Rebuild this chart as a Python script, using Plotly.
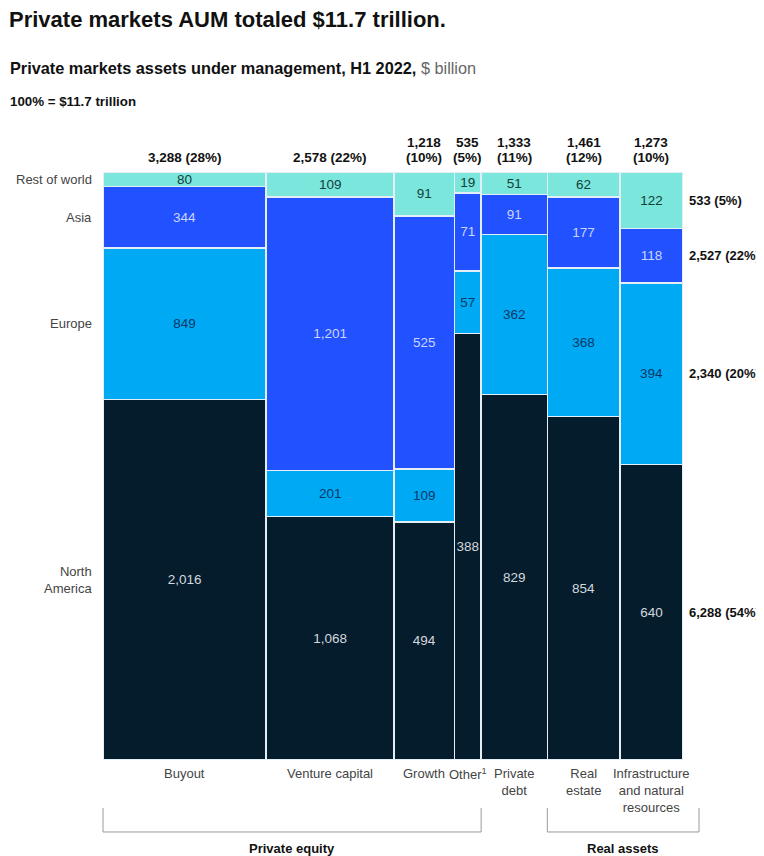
import plotly.graph_objects as go

# ---------------- data ----------------
columns = ["Buyout", "Venture capital", "Growth", "Other<sup>1</sup>", "Private<br>debt",
           "Real<br>estate", "Infrastructure<br>and natural<br>resources"]
col_totals = [3288, 2578, 1218, 535, 1333, 1461, 1273]
col_pct = [28, 22, 10, 5, 11, 12, 10]

regions = ["North America", "Europe", "Asia", "Rest of world"]
region_labels = ["North<br>America", "Europe", "Asia", "Rest of world"]
north_america = [2016, 1068, 494, 388, 829, 854, 640]
europe = [849, 201, 109, 57, 362, 368, 394]
asia = [344, 1201, 525, 71, 91, 177, 118]
rest_of_world = [80, 109, 91, 19, 51, 62, 122]
region_totals = [6288, 2340, 2527, 533]
region_pct = [54, 20, 22, 5]

colors = ["#051C2C", "#00A9F4", "#2251FF", "#7BE6DB"]
text_colors = ["#d3d8de", "#0b3866", "#ccd5ff", "#12403c"]

FONT = "Liberation Sans, Arial, sans-serif"

# ---------------- geometry from data ----------------
series = [north_america, europe, asia, rest_of_world]
col_sums = [sum(s[i] for s in series) for i in range(len(columns))]
grand = sum(col_totals)
lefts = []
acc = 0
for t in col_totals:
    lefts.append(acc)
    acc += t
centers = [l + t / 2 for l, t in zip(lefts, col_totals)]

fig = go.Figure()
for k, (name, vals) in enumerate(zip(regions, series)):
    shares = [v / col_sums[i] for i, v in enumerate(vals)]
    fig.add_trace(go.Bar(
        name=name, x=centers, y=shares, width=col_totals,
        marker=dict(color=colors[k], line=dict(color="#e4eef7", width=1.6)),
        text=[f"{v:,}" for v in vals], textposition="inside",
        insidetextanchor="middle", textangle=0, constraintext="none",
        textfont=dict(family=FONT, size=13.5, color=text_colors[k]),
        hoverinfo="skip", showlegend=False,
    ))

annotations = []
# column totals above
top_font = dict(family=FONT, size=13.5, color="#111")
for i in range(len(columns)):
    if i < 2:
        annotations.append(dict(x=centers[i], y=1, xref="x", yref="paper",
                                text=f"<b>{col_totals[i]:,} ({col_pct[i]}%)</b>",
                                showarrow=False, yanchor="middle", yshift=15, font=top_font))
    else:
        annotations.append(dict(x=centers[i], y=1, xref="x", yref="paper",
                                text=f"<b>{col_totals[i]:,}</b>",
                                showarrow=False, yanchor="middle", yshift=30, font=top_font))
        annotations.append(dict(x=centers[i], y=1, xref="x", yref="paper",
                                text=f"<b>({col_pct[i]}%)</b>",
                                showarrow=False, yanchor="middle", yshift=15, font=top_font))
# column names below
for i, c in enumerate(columns):
    annotations.append(dict(x=centers[i], y=0, xref="x", yref="paper", text=c,
                            showarrow=False, yanchor="top", yshift=-4,
                            font=dict(family=FONT, size=13, color="#444")))

# region labels on left (centers of the first column's segments)
cum = 0
for k, vals in enumerate(series):
    share = vals[0] / col_sums[0]
    annotations.append(dict(x=0, y=cum + share / 2, xref="paper", yref="paper",
                            text=region_labels[k], showarrow=False, xanchor="right",
                            yanchor="middle", xshift=-9, align="right",
                            font=dict(family=FONT, size=13, color="#444")))
    cum += share

# region totals on right (centers of last column's segments)
cum = 0
last = len(columns) - 1
for k, vals in enumerate(series):
    share = vals[last] / col_sums[last]
    annotations.append(dict(x=1, y=cum + share / 2, xref="paper", yref="paper",
                            text=f"<b>{region_totals[k]:,} ({region_pct[k]}%)</b>",
                            showarrow=False, xanchor="left", yanchor="middle", xshift=4,
                            font=dict(family=FONT, size=13, color="#111")))
    cum += share

# header texts
annotations.append(dict(x=0, y=1.259, xref="paper", yref="paper", xanchor="left",
                        yanchor="middle", xshift=-95, borderpad=0,
                        text="<b>Private markets AUM totaled $11.7 trillion.</b>", showarrow=False,
                        font=dict(family=FONT, size=22, color="#111")))
annotations.append(dict(x=0, y=1.1769, xref="paper", yref="paper", xanchor="left",
                        yanchor="middle", xshift=-95,
                        text="<b>Private markets assets under management, H1 2022,</b> "
                             "<span style='color:#666'>$ billion</span>",
                        showarrow=False, font=dict(family=FONT, size=16.3, color="#111")))
annotations.append(dict(x=0, y=1.1207, xref="paper", yref="paper", xanchor="left",
                        yanchor="middle", xshift=-95,
                        text="<b>100% = $11.7 trillion</b>", showarrow=False,
                        font=dict(family=FONT, size=13.3, color="#111")))

# group brackets (paper coordinates derived from the data edges)
pe_left = lefts[0] / grand
pe_right = (lefts[3] + col_totals[3]) / grand
ra_left = lefts[5] / grand
ra_right = 1.0276
y_top, y_bot = -0.0816, -0.1224
shapes = []
for (a, b) in [(pe_left, pe_right), (ra_left, ra_right)]:
    line = dict(color="#9a9a9a", width=1)
    shapes.append(dict(type="line", xref="paper", yref="paper", x0=a, x1=a, y0=y_top, y1=y_bot, line=line))
    shapes.append(dict(type="line", xref="paper", yref="paper", x0=b, x1=b, y0=y_top, y1=y_bot, line=line))
    shapes.append(dict(type="line", xref="paper", yref="paper", x0=a, x1=b, y0=y_bot, y1=y_bot, line=line))
annotations.append(dict(x=(pe_left + pe_right) / 2, y=-0.15, xref="paper", yref="paper",
                        text="<b>Private equity</b>", showarrow=False, xanchor="center",
                        yanchor="middle", font=dict(family=FONT, size=13, color="#111")))
annotations.append(dict(x=(ra_left + ra_right) / 2, y=-0.15, xref="paper", yref="paper",
                        text="<b>Real assets</b>", showarrow=False, xanchor="center",
                        yanchor="middle", font=dict(family=FONT, size=13, color="#111")))

fig.update_layout(
    width=756, height=848, barmode="stack",
    margin=dict(l=95, r=81, t=164, b=96),
    plot_bgcolor="white", paper_bgcolor="white",
    xaxis=dict(range=[0, grand], visible=False, fixedrange=True),
    yaxis=dict(range=[0, 1], visible=False, fixedrange=True),
    annotations=annotations, shapes=shapes,
    uniformtext=dict(mode="show", minsize=12),
)

fig.write_html("out.html")
